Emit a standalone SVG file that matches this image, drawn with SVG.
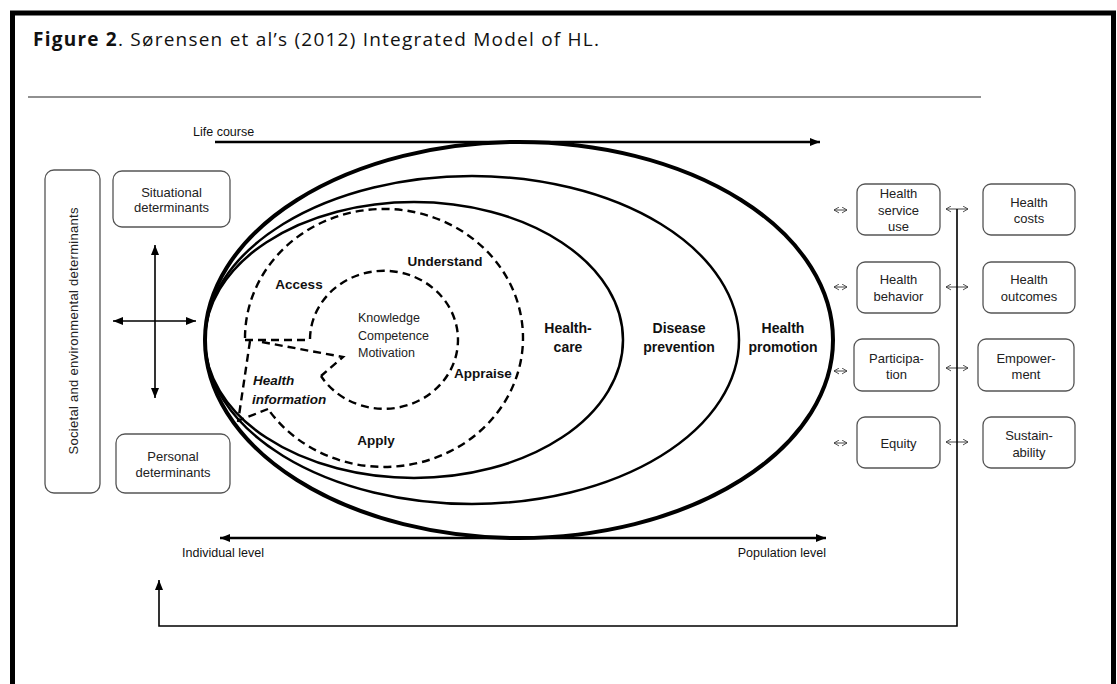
<svg xmlns="http://www.w3.org/2000/svg" width="1117" height="684" viewBox="0 0 1117 684">
  <defs>
    <style>
      .frame { fill: none; stroke: #000; stroke-width: 5; }
      .rule { stroke: #222; stroke-width: 1.2; }
      .box { fill: #fff; stroke: #555; stroke-width: 1.3; }
      .btxt { font-family: "Liberation Sans", Arial, sans-serif; font-size: 13px; fill: #222; text-anchor: middle; }
      .lbl { font-family: "Liberation Sans", Arial, sans-serif; font-size: 14px; font-weight: bold; fill: #111; text-anchor: middle; }
      .step { font-family: "Liberation Sans", Arial, sans-serif; font-size: 13.5px; font-weight: bold; fill: #111; text-anchor: middle; }
      .info { font-family: "Liberation Sans", Arial, sans-serif; font-size: 13.5px; font-weight: bold; font-style: italic; fill: #111; text-anchor: start; }
      .core { font-family: "Liberation Sans", Arial, sans-serif; font-size: 12.5px; fill: #222; }
      .axis { font-family: "Liberation Sans", Arial, sans-serif; font-size: 12.5px; fill: #111; }
      .ring { fill: none; stroke: #000; }
      .dash { fill: none; stroke: #000; stroke-width: 2.4; stroke-dasharray: 8 5; }
      .arrow { fill: none; stroke: #000; }
      .tiny { fill: none; stroke: #444; stroke-width: 1; }
    </style>
    <marker id="head" viewBox="0 0 10 8" refX="10" refY="4" markerWidth="10" markerHeight="8" markerUnits="userSpaceOnUse" orient="auto-start-reverse">
      <path d="M0,0 L10,4 L0,8 z" fill="#000"/>
    </marker>
    <marker id="chev" viewBox="0 0 6 8" refX="6" refY="4" markerWidth="5" markerHeight="7" markerUnits="userSpaceOnUse" orient="auto-start-reverse">
      <path d="M0,0.5 L6,4 L0,7.5" fill="none" stroke="#333" stroke-width="1"/>
    </marker>
  </defs>

  <rect width="1117" height="684" fill="#fff"/>
  <!-- page frame (open at the bottom edge of the view) -->
  <rect class="frame" x="12.5" y="13" width="1101" height="700"/>

  <!-- caption -->
  <g id="caption">
    <text x="33" y="46" font-family="Open Sans, Liberation Sans, sans-serif" font-size="19" fill="#111" textLength="566"><tspan font-weight="bold">Figure 2</tspan>. Sørensen et al’s (2012) Integrated Model of HL.</text>
    <line class="rule" x1="28" y1="97" x2="981" y2="97"/>
  </g>

  <!-- nested domains of the model -->
  <g id="domains">
    <ellipse id="health-promotion" class="ring" cx="519" cy="340" rx="314" ry="198" stroke-width="4"/>
    <ellipse id="disease-prevention" class="ring" cx="472" cy="340" rx="267" ry="164" stroke-width="2.5"/>
    <ellipse id="health-care" class="ring" cx="414" cy="340" rx="209" ry="138" stroke-width="2.5"/>
    <text class="lbl" x="568" y="333">Health-</text>
    <text class="lbl" x="568" y="352">care</text>
    <text class="lbl" x="679" y="333">Disease</text>
    <text class="lbl" x="679" y="352">prevention</text>
    <text class="lbl" x="783" y="333">Health</text>
    <text class="lbl" x="783" y="352">promotion</text>
  </g>

  <!-- health literacy core: dashed rings and the information slice -->
  <g id="hl-core">
    <path class="dash" d="M245 338 A139 129 0 1 1 268 409"/>
    <path class="dash" d="M268 409 L240 420"/>
    <path class="dash" d="M250 341 L238 422"/>
    <path class="dash" d="M245 340 L310 340"/>
    <path class="dash" d="M310 339 A74 69 0 1 1 321 376"/>
    <path class="dash" d="M262 342 L343 357 L321 376"/>
    <text class="step" x="445" y="266">Understand</text>
    <text class="step" x="299" y="289">Access</text>
    <text class="step" x="483" y="378">Appraise</text>
    <text class="step" x="376" y="445">Apply</text>
    <text class="info" x="253" y="385">Health</text>
    <text class="info" x="252" y="404">information</text>
    <text class="core" x="358" y="322">Knowledge</text>
    <text class="core" x="358" y="340">Competence</text>
    <text class="core" x="358" y="357">Motivation</text>
  </g>

  <!-- determinants -->
  <g id="societal">
    <rect class="box" x="45" y="170" width="55" height="323" rx="9"/>
    <text class="btxt" transform="translate(78 331) rotate(-90)" textLength="247">Societal and environmental determinants</text>
  </g>
  <g id="situational">
    <rect class="box" x="113" y="171" width="117" height="56" rx="9"/>
    <text class="btxt" x="171.5" y="197">Situational</text>
    <text class="btxt" x="171.5" y="212">determinants</text>
  </g>
  <g id="personal">
    <rect class="box" x="116" y="434" width="114" height="59" rx="9"/>
    <text class="btxt" x="173" y="461">Personal</text>
    <text class="btxt" x="173" y="477">determinants</text>
  </g>

  <!-- outcomes, first column -->
  <g id="service-use">
    <rect class="box" x="857" y="184" width="83" height="51" rx="8"/>
    <text class="btxt" x="898.5" y="198">Health</text>
    <text class="btxt" x="898.5" y="215">service</text>
    <text class="btxt" x="898.5" y="231">use</text>
  </g>
  <g id="behavior">
    <rect class="box" x="857" y="262" width="83" height="51" rx="8"/>
    <text class="btxt" x="898.5" y="284">Health</text>
    <text class="btxt" x="898.5" y="301">behavior</text>
  </g>
  <g id="participation">
    <rect class="box" x="854" y="339" width="85" height="52" rx="8"/>
    <text class="btxt" x="896.5" y="363">Participa-</text>
    <text class="btxt" x="896.5" y="379">tion</text>
  </g>
  <g id="equity">
    <rect class="box" x="857" y="417" width="83" height="51" rx="8"/>
    <text class="btxt" x="898.5" y="448">Equity</text>
  </g>

  <!-- outcomes, second column -->
  <g id="costs">
    <rect class="box" x="983" y="184" width="92" height="51" rx="8"/>
    <text class="btxt" x="1029" y="207">Health</text>
    <text class="btxt" x="1029" y="223">costs</text>
  </g>
  <g id="outcomes">
    <rect class="box" x="983" y="262" width="92" height="51" rx="8"/>
    <text class="btxt" x="1029" y="284">Health</text>
    <text class="btxt" x="1029" y="301">outcomes</text>
  </g>
  <g id="empowerment">
    <rect class="box" x="978" y="339" width="96" height="52" rx="8"/>
    <text class="btxt" x="1026" y="363">Empower-</text>
    <text class="btxt" x="1026" y="379">ment</text>
  </g>
  <g id="sustainability">
    <rect class="box" x="983" y="417" width="92" height="51" rx="8"/>
    <text class="btxt" x="1029" y="440">Sustain-</text>
    <text class="btxt" x="1029" y="457">ability</text>
  </g>

  <!-- axis labels -->
  <g id="axes-labels">
    <text class="axis" x="193" y="136">Life course</text>
    <text class="axis" x="182" y="557">Individual level</text>
    <text class="axis" x="826" y="557" text-anchor="end">Population level</text>
  </g>

  <!-- connectors -->
  <g id="connectors">
    <line class="arrow" x1="215" y1="142" x2="820" y2="142" stroke-width="2.5" marker-end="url(#head)"/>
    <line class="arrow" x1="220" y1="538" x2="826" y2="538" stroke-width="2.5" marker-start="url(#head)" marker-end="url(#head)"/>
    <line class="arrow" x1="155" y1="245" x2="155" y2="398" stroke-width="1.6" marker-start="url(#head)" marker-end="url(#head)"/>
    <line class="arrow" x1="113" y1="321" x2="196" y2="321" stroke-width="1.6" marker-start="url(#head)" marker-end="url(#head)"/>

    <line class="tiny" x1="834" y1="210" x2="847" y2="210" marker-start="url(#chev)" marker-end="url(#chev)"/>
    <line class="tiny" x1="834" y1="287" x2="847" y2="287" marker-start="url(#chev)" marker-end="url(#chev)"/>
    <line class="tiny" x1="834" y1="371" x2="847" y2="371" marker-start="url(#chev)" marker-end="url(#chev)"/>
    <line class="tiny" x1="834" y1="443" x2="847" y2="443" marker-start="url(#chev)" marker-end="url(#chev)"/>

    <line class="tiny" x1="946" y1="209" x2="968" y2="209" marker-start="url(#chev)" marker-end="url(#chev)"/>
    <line class="tiny" x1="946" y1="287" x2="968" y2="287" marker-start="url(#chev)" marker-end="url(#chev)"/>
    <line class="tiny" x1="946" y1="368" x2="968" y2="368" marker-start="url(#chev)" marker-end="url(#chev)"/>
    <line class="tiny" x1="946" y1="442" x2="968" y2="442" marker-start="url(#chev)" marker-end="url(#chev)"/>

    <path class="arrow" d="M957 209 V626 H159 V580" stroke-width="1.6" marker-end="url(#head)"/>
  </g>
</svg>
